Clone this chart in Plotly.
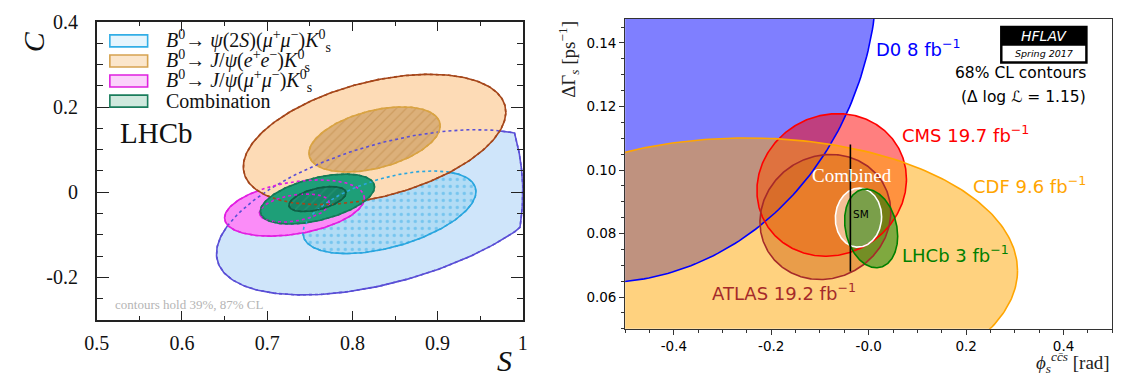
import numpy as np
import plotly.graph_objects as go

W, H = 1124, 380
OX, OY = 8, 8   # the page body margin shifts the figure by 8 px; positions below are window pixels

# ---------------- Left panel: LHCb (S, C) measurements, 1-sigma ellipse parameters ----------------
left_names = ["psi2S_mumu", "jpsi_mumu", "jpsi_ee", "combination"]
left_S0 = [0.8435, 0.732, 0.826, 0.759]
left_C0 = [-0.047, -0.037, 0.124, -0.016]
left_sS = [0.1015, 0.041, 0.077, 0.0335]
left_sC = [0.097, 0.033, 0.0765, 0.0293]
left_rho = [0.50, 0.35, 0.42, 0.49]
left_levels = [2.0, 1.0]          # 87% and 39% CL contours (in sigma)
left_xticks = [0.5, 0.6, 0.7, 0.8, 0.9, 1.0]
left_xticktext = ["0.5", "0.6", "0.7", "0.8", "0.9", "1"]
left_yticks = [-0.2, 0.0, 0.2, 0.4]
left_yticktext = ["-0.2", "0", "0.2", "0.4"]
legend_labels = [   # same order as left_names
    "<i>B</i><sup>0</sup>→ <i>ψ</i>(2<i>S</i>)(<i>μ</i><sup>+</sup><i>μ</i><sup>−</sup>)<i>K</i><sup>0</sup><sub>s</sub>",
    "<i>B</i><sup>0</sup>→ <i>J</i>/<i>ψ</i>(<i>μ</i><sup>+</sup><i>μ</i><sup>−</sup>)<i>K</i><sup>0</sup><sub>s</sub>",
    "<i>B</i><sup>0</sup>→ <i>J</i>/<i>ψ</i>(<i>e</i><sup>+</sup><i>e</i><sup>−</sup>)<i>K</i><sup>0</sup><sub>s</sub>",
    "Combination",
]
legend_order = [0, 2, 1, 3]

# ---------------- Right panel: phi_s vs DeltaGamma_s, 68% CL ellipse half-widths ----------------
right_names = ["D0", "CMS", "ATLAS", "CDF", "Combined", "LHCb"]
right_phi0 = [-0.55, -0.076, -0.089, -0.25, -0.021, 0.005]
right_dG0 = [0.163, 0.0953, 0.0852, 0.0683, 0.0850, 0.0816]
right_sphi = [0.568, 0.1535, 0.1343, 0.5555, 0.0475, 0.0545]
right_sdG = [0.0985, 0.02245, 0.0197, 0.0418, 0.0093, 0.0124]
right_rho = [0.0, 0.08, 0.08, 0.0, 0.03, -0.2]
right_labels = ["D0 8 fb<sup>−1</sup>", "CMS 19.7 fb<sup>−1</sup>", "ATLAS 19.2 fb<sup>−1</sup>",
                "CDF 9.6 fb<sup>−1</sup>", "Combined", "LHCb 3 fb<sup>−1</sup>"]
right_label_phi = [0.011, 0.065, -0.3257, 0.211, -0.0333, 0.065]
right_label_dG = [0.1383, 0.1113, 0.0615, 0.0954, 0.0982, 0.0734]
sm_phi = -0.0376
sm_dG = 0.088
sm_err = 0.020
right_xticks = [-0.4, -0.2, 0.0, 0.2, 0.4]
right_xticktext = ["-0.4", "-0.2", "-0.0", "0.2", "0.4"]
right_yticks = [0.06, 0.08, 0.10, 0.12, 0.14]
right_yticktext = ["0.06", "0.08", "0.10", "0.12", "0.14"]


def ellipse(x0, y0, sx, sy, rho, k=1.0, n=241):
    t = np.linspace(0, 2 * np.pi, n)
    x = x0 + k * sx * np.cos(t)
    y = y0 + k * sy * (rho * np.cos(t) + np.sqrt(1 - rho ** 2) * np.sin(t))
    return x, y


def P(px, py):
    return (px - OX) / W, 1 - (py - OY) / H


fig = go.Figure()

# ---- left panel styles
l_fill = {2.0: ["#cfe5fa", "#fb8cf8", "#fddbb6", "#1e9f78"],
          1.0: ["#b2dcf5", "#f27af0", "#dcb07a", "#168466"]}
l_line = {2.0: ["#5a4fd6", "#e21ee2", "#a5461a", "#157a58"],
          1.0: ["#2aa6df", "#d818d8", "#d9a343", "#0f5e44"]}
pat_shape = [".", "/", "/", "/"]
pat_fg = ["#3aaee8", "#e05ee0", "#c08a48", "#2b9e7c"]

contours = []
for i in range(len(left_names)):
    for k in left_levels:
        x, y = ellipse(left_S0[i], left_C0[i], left_sS[i], left_sC[i], left_rho[i], k)
        if left_names[i] == "psi2S_mumu":
            x = np.minimum(x, np.sqrt(1 - y ** 2))   # physical boundary S^2 + C^2 <= 1
        contours.append((x, y, l_line[k][i]))
        kw = {}
        if k == 1.0:
            kw["fillpattern"] = dict(shape=pat_shape[i], fgcolor=pat_fg[i], bgcolor=l_fill[k][i],
                                     size=7, solidity=0.18)
        fig.add_trace(go.Scatter(x=x, y=y, mode="lines", fill="toself", fillcolor=l_fill[k][i],
                                 line=dict(color=l_line[k][i], width=1.6), xaxis="x", yaxis="y",
                                 hoverinfo="skip", showlegend=False, **kw))
for x, y, c in contours:
    fig.add_trace(go.Scatter(x=x, y=y, mode="lines", line=dict(color=c, width=1.6, dash="dot"),
                             xaxis="x", yaxis="y", hoverinfo="skip", showlegend=False))

# ---- right panel
r_color = ["blue", "red", "brown", "orange", "white", "green"]
r_rgb = ["0,0,255", "255,0,0", "165,42,42", "255,165,0", "255,255,255", "0,128,0"]
r_outlines = []
for i in range(len(right_names)):
    x, y = ellipse(right_phi0[i], right_dG0[i], right_sphi[i], right_sdG[i], right_rho[i], 1.0, 361)
    r_outlines.append((x, y, r_color[i]))
    fig.add_trace(go.Scatter(x=x, y=y, mode="lines", fill="toself",
                             fillcolor=f"rgba({r_rgb[i]},0.5)", line=dict(width=0),
                             xaxis="x2", yaxis="y2", hoverinfo="skip", showlegend=False))
for x, y, c in r_outlines:
    fig.add_trace(go.Scatter(x=x, y=y, mode="lines", line=dict(color=c, width=1.6),
                             xaxis="x2", yaxis="y2", hoverinfo="skip", showlegend=False))
fig.add_trace(go.Scatter(x=[sm_phi, sm_phi], y=[sm_dG - sm_err, sm_dG + sm_err], mode="lines",
                         line=dict(color="black", width=1.6), xaxis="x2", yaxis="y2",
                         hoverinfo="skip", showlegend=False))

annotations = []
label_colors = ["blue", "red", "brown", "orange", "white", "green"]
for i in range(len(right_names)):
    if right_names[i] == "Combined":
        annotations.append(dict(x=right_label_phi[i], y=right_label_dG[i], xref="x2", yref="y2",
                                text=right_labels[i], showarrow=False, xanchor="center", yanchor="middle",
                                font=dict(family="Liberation Serif", size=19, color="white")))
    else:
        annotations.append(dict(x=right_label_phi[i], y=right_label_dG[i], xref="x2", yref="y2",
                                text=right_labels[i], showarrow=False, xanchor="left", yanchor="middle",
                                font=dict(family="DejaVu Sans", size=18, color=label_colors[i])))
annotations.append(dict(x=sm_phi + 0.021, y=sm_dG - 0.002, xref="x2", yref="y2", text="SM", showarrow=False,
                        xanchor="center", yanchor="middle",
                        font=dict(family="DejaVu Sans", size=10.5, color="black")))


def ann(px, py, text, font, xanchor="left", yanchor="middle", angle=0):
    x, y = P(px, py)
    annotations.append(dict(x=x, y=y, xref="paper", yref="paper", text=text, showarrow=False,
                            xanchor=xanchor, yanchor=yanchor, textangle=angle, font=font))


ann(1092, 63.5, "68% CL contours", dict(family="DejaVu Sans", size=15.5, color="black"), "right")
ann(1092, 88, "(Δ log ℒ = 1.15)", dict(family="DejaVu Sans", size=15.5, color="black"), "right")
ann(1047.5, 25, "<i>HFLAV</i>", dict(family="DejaVu Sans", size=14, color="white"), "center")
ann(1047.5, 43.5, "<i>Spring 2017</i>", dict(family="DejaVu Sans", size=9.5, color="black"), "center")
ann(565, 50, "ΔΓ<sub><i>s</i></sub> [ps<sup>−1</sup>]", dict(family="Liberation Serif", size=19, color="#222"),
    "center", "middle", -90)
ann(1117, 362, "<i>ϕ</i><sub><i>s</i></sub><sup><i>cc̄s</i></sup> [rad]",
    dict(family="Liberation Serif", size=19, color="#222"), "right")

for j, i in enumerate(legend_order):
    ann(153.3, 30.5 + 20.7 * j, legend_labels[i], dict(family="Liberation Serif", size=20, color="#111"))
ann(106.7, 125, "LHCb", dict(family="Liberation Serif", size=29, color="#111"))
ann(101, 302, "contours hold 39%, 87% CL", dict(family="Liberation Serif", size=13, color="#b4b4b4"))
ann(21, 31, "<i>C</i>", dict(family="Liberation Serif", size=30, color="#111"), "center", "middle", -90)
ann(499, 360, "<i>S</i>", dict(family="Liberation Serif", size=30, color="#111"), "center")

shapes = []
box_edge = ["#33aee6", "#e020e0", "#d6a350", "#1a7d5c"]
box_fill = ["#e6f5fd", "#fbd3fb", "#fbe6cc", "#cfe9de"]
for j, i in enumerate(legend_order):
    x0, y1 = P(98.3, 24.3 + 20.7 * j)
    x1, y0 = P(136.7, 36.7 + 20.7 * j)
    shapes.append(dict(type="rect", xref="paper", yref="paper", x0=x0, x1=x1, y0=y0, y1=y1,
                       fillcolor=box_fill[i], line=dict(color=box_edge[i], width=1.6)))
x0, y1 = P(1003, 15)
x1, y0 = P(1092, 54)
shapes.append(dict(type="rect", xref="paper", yref="paper", x0=x0, x1=x1, y0=y0, y1=y1,
                   fillcolor="black", line=dict(width=0)))
x0, y1 = P(1005.5, 35.5)
x1, y0 = P(1089.5, 51.5)
shapes.append(dict(type="rect", xref="paper", yref="paper", x0=x0, x1=x1, y0=y0, y1=y1,
                   fillcolor="white", line=dict(width=0)))

serif_tick = dict(family="Liberation Serif", size=20, color="#111")
sans_tick = dict(family="DejaVu Sans", size=13.5, color="black")

# axis domains (window pixels -> paper fractions)
lx0, ly1 = P(85, 11)
lx1, ly0 = P(518, 318)
rx0, ry1 = P(622, 8)
rx1, ry0 = P(1117, 327)
# right y axis: 0.05 at window y=327, 0.15 at window y=0 -> top visible value at window y=8
r_top = 0.15 - (0.15 - 0.05) * 8 / 327

fig.update_layout(
    width=W, height=H, autosize=False,
    margin=dict(l=0, r=0, t=0, b=0),
    paper_bgcolor="white", plot_bgcolor="white",
    showlegend=False,
    annotations=annotations, shapes=shapes,
    xaxis=dict(domain=[lx0, lx1], range=[0.5, 1.0], anchor="y",
               tickmode="array", tickvals=left_xticks, ticktext=left_xticktext,
               ticks="inside", ticklen=9, tickwidth=1.2, tickcolor="#222",
               minor=dict(ticks="inside", dtick=0.05, tick0=0, ticklen=4.5, tickwidth=1.2, tickcolor="#222"),
               showline=True, linecolor="#222", linewidth=1.6, mirror="ticks",
               showgrid=False, zeroline=False, tickfont=serif_tick, ticklabelstandoff=4,
               ticklabeloverflow="allow"),
    yaxis=dict(domain=[ly0, ly1], range=[-0.3, 0.4], anchor="x",
               tickmode="array", tickvals=left_yticks, ticktext=left_yticktext,
               ticks="inside", ticklen=12, tickwidth=1.2, tickcolor="#222",
               minor=dict(ticks="inside", dtick=0.05, tick0=0, ticklen=6, tickwidth=1.2, tickcolor="#222"),
               showline=True, linecolor="#222", linewidth=1.6, mirror="ticks",
               showgrid=False, zeroline=False, tickfont=serif_tick, ticklabelstandoff=13,
               ticklabeloverflow="allow"),
    xaxis2=dict(domain=[rx0, rx1], range=[-0.5, 0.5], anchor="y2",
                tickmode="array", tickvals=right_xticks, ticktext=right_xticktext,
                ticks="outside", ticklen=5, tickwidth=1, tickcolor="#333",
                minor=dict(ticks="outside", dtick=0.05, tick0=0, ticklen=3, tickwidth=1, tickcolor="#333"),
                showline=True, linecolor="#333", linewidth=1, mirror=True,
                showgrid=False, zeroline=False, tickfont=sans_tick),
    yaxis2=dict(domain=[ry0, 1.0], range=[0.05, r_top], anchor="x2",
                tickmode="array", tickvals=right_yticks, ticktext=right_yticktext,
                ticks="outside", ticklen=5, tickwidth=1, tickcolor="#333",
                minor=dict(ticks="outside", dtick=0.005, tick0=0, ticklen=3, tickwidth=1, tickcolor="#333"),
                showline=True, linecolor="#333", linewidth=1, mirror=True,
                showgrid=False, zeroline=False, tickfont=sans_tick),
)

fig.write_html("out.html")
